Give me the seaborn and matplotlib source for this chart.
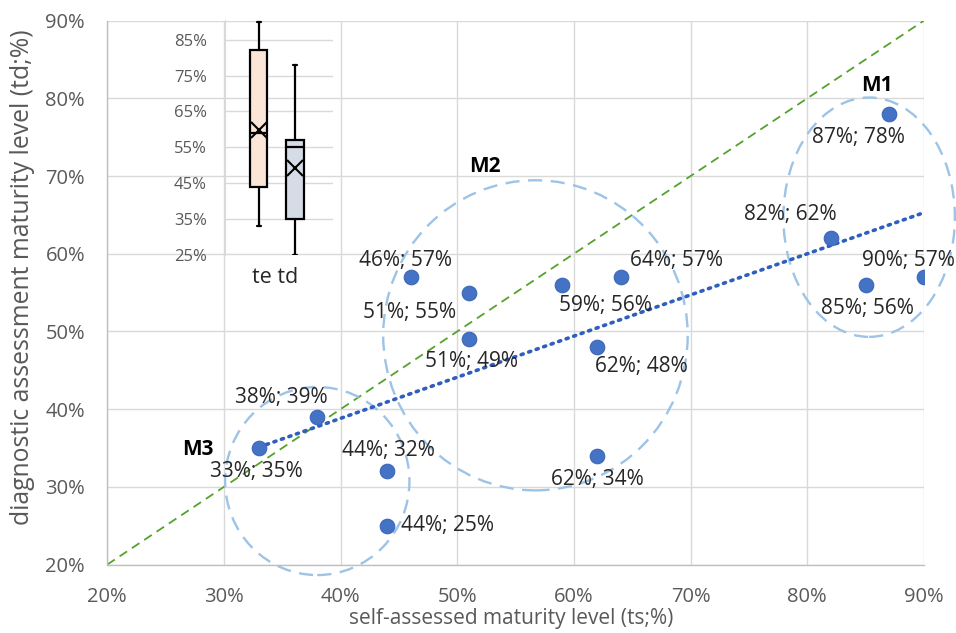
import numpy as np
import pandas as pd
import matplotlib
matplotlib.use("Agg")
import matplotlib.pyplot as plt
from matplotlib.patches import Ellipse
from matplotlib.ticker import FuncFormatter, MultipleLocator
import seaborn as sns

# self-assessed (ts) and diagnostic (td) maturity levels, in percent
ts = [87, 82, 90, 85, 46, 51, 59, 64, 51, 62, 62, 38, 33, 44, 44]
td = [78, 62, 57, 56, 57, 55, 56, 57, 49, 48, 34, 39, 35, 32, 25]

axis_ticks = [20, 30, 40, 50, 60, 70, 80, 90]
inset_ticks = [25, 35, 45, 55, 65, 75, 85]
inset_label = "te td"

x_title = "self-assessed maturity level (ts;%)"
y_title = "diagnostic assessment maturity level (td;%)"

# maturity groups outlined on the chart
group_names = ["M1", "M2", "M3"]
group_centers = [(85.3, 64.7), (56.7, 49.5), (38.0, 30.75)]
group_sizes = [(14.7, 30.8), (26.1, 39.9), (15.8, 24.2)]
group_title_pos = [(86.0, 81.7), (52.4, 71.2), (27.8, 34.75)]

# offsets (points) of each value label from its marker
label_offsets = [(-22, -17), (-29, 17), (-11, 12), (1, -17), (-4, 12),
                 (-43, -14), (31, -15), (40, 12), (2, -16), (32, -14),
                 (0, -17), (-26, 14), (-2, -17), (1, 15), (43, 0)]

df = pd.DataFrame({"ts": ts, "td": td})

sns.set_style("white")
plt.rcParams["font.family"] = ["Open Sans", "DejaVu Sans"]

TICK_C = "#595959"
GRID_C = "#D9D9D9"
SPINE_C = "#BFBFBF"

fig = plt.figure(figsize=(9.56, 6.33), dpi=100)
ax = fig.add_axes([0.1122, 0.1081, 0.8543, 0.8594])

lo, hi = axis_ticks[0], axis_ticks[-1]
ax.set_xlim(lo, hi)
ax.set_ylim(lo, hi)
ax.set_xticks(axis_ticks)
ax.set_yticks(axis_ticks)
pct = FuncFormatter(lambda v, _: f"{v:.0f}%")
ax.xaxis.set_major_formatter(pct)
ax.yaxis.set_major_formatter(pct)
ax.tick_params(length=0, pad=16, labelsize=14.5, labelcolor=TICK_C)
ax.grid(True, color=GRID_C, lw=1.0, zorder=0)
ax.set_axisbelow(True)
for side in ["top", "right"]:
    ax.spines[side].set_visible(False)
for side in ["left", "bottom"]:
    ax.spines[side].set_color(SPINE_C)
    ax.spines[side].set_linewidth(1.0)

# equality line ts = td
ax.plot([lo, hi], [lo, hi], color="#55A22C", lw=1.3, dashes=(5, 3.2), zorder=2)

# group outlines
for (cx, cy), (w, h) in zip(group_centers, group_sizes):
    ax.add_patch(Ellipse((cx, cy), w, h, fill=False, edgecolor="#9DC3E6",
                         lw=1.7, linestyle=(0, (6, 3.6)), clip_on=False, zorder=2))
for name, (gx, gy) in zip(group_names, group_title_pos):
    ax.text(gx, gy, name, ha="center", va="center", fontsize=15,
            fontweight="bold", color="black", zorder=5)

# linear trend over the points
sns.regplot(data=df, x="ts", y="td", ax=ax, scatter=False, ci=None, truncate=True,
            line_kws=dict(color="#2F5EBF", lw=2.6, linestyle=(0, (0.6, 1.6)),
                          dash_capstyle="round", zorder=3))

sns.scatterplot(data=df, x="ts", y="td", ax=ax, s=110, color="#4472C4",
                edgecolor="#3B66B8", linewidth=0.8, zorder=4)

for x, y, (dx, dy) in zip(ts, td, label_offsets):
    ax.annotate(f"{x}%; {y}%", (x, y), xytext=(dx, dy), textcoords="offset points",
                ha="center", va="center", fontsize=15, color="#262626", zorder=5)

ax.set_xlabel(x_title, fontsize=15, color=TICK_C)
ax.set_ylabel(y_title, fontsize=17.8, color=TICK_C)
ax.xaxis.set_label_coords(0.495, -0.08)
ax.yaxis.set_label_coords(-0.088, 0.529)

# inset: distribution of both measures
ins = fig.add_axes([0.2354, 0.5972, 0.1130, 0.3712])
ins.patch.set_alpha(0)


def box_stats(values):
    v = np.asarray(values, dtype=float)
    q1, med, q3 = np.percentile(v, [25, 50, 75], method="weibull")
    iqr = q3 - q1
    return dict(med=med, q1=q1, q3=q3,
                whislo=v[v >= q1 - 1.5 * iqr].min(),
                whishi=v[v <= q3 + 1.5 * iqr].max(),
                mean=v.mean(), fliers=[])


bp = ins.bxp([box_stats(ts), box_stats(td)], positions=[0, 1], widths=0.47,
             patch_artist=True, showmeans=True, capwidths=0.11,
             boxprops=dict(edgecolor="black", linewidth=1.6),
             medianprops=dict(color="black", linewidth=1.6),
             whiskerprops=dict(color="black", linewidth=1.6),
             capprops=dict(color="black", linewidth=1.6),
             meanprops=dict(marker="x", markeredgecolor="black",
                            markersize=11, markeredgewidth=1.5))
for patch, fc in zip(bp["boxes"], ["#FBE5D6", "#D6DCE5"]):
    patch.set_facecolor(fc)

ins.set_xlim(-0.93, 2.05)
ins.set_ylim(25, 90.5)
ins.set_yticks(inset_ticks)
ins.yaxis.set_major_formatter(pct)
ins.yaxis.set_minor_locator(MultipleLocator(2))
ins.set_xticks([])
ins.tick_params(axis="y", which="major", length=0, pad=13, labelsize=12,
                labelcolor=TICK_C)
ins.tick_params(axis="y", which="minor", length=3, direction="in", color=SPINE_C)
ins.grid(True, axis="y", color=GRID_C, lw=1.0)
ins.set_axisbelow(True)
for side in ["top", "right", "bottom"]:
    ins.spines[side].set_visible(False)
ins.spines["left"].set_color(GRID_C)
ins.text(0.463, -0.095, inset_label, transform=ins.transAxes, ha="center",
         va="center", fontsize=15.5, color="#262626")

fig.savefig("out.png", dpi=100)
